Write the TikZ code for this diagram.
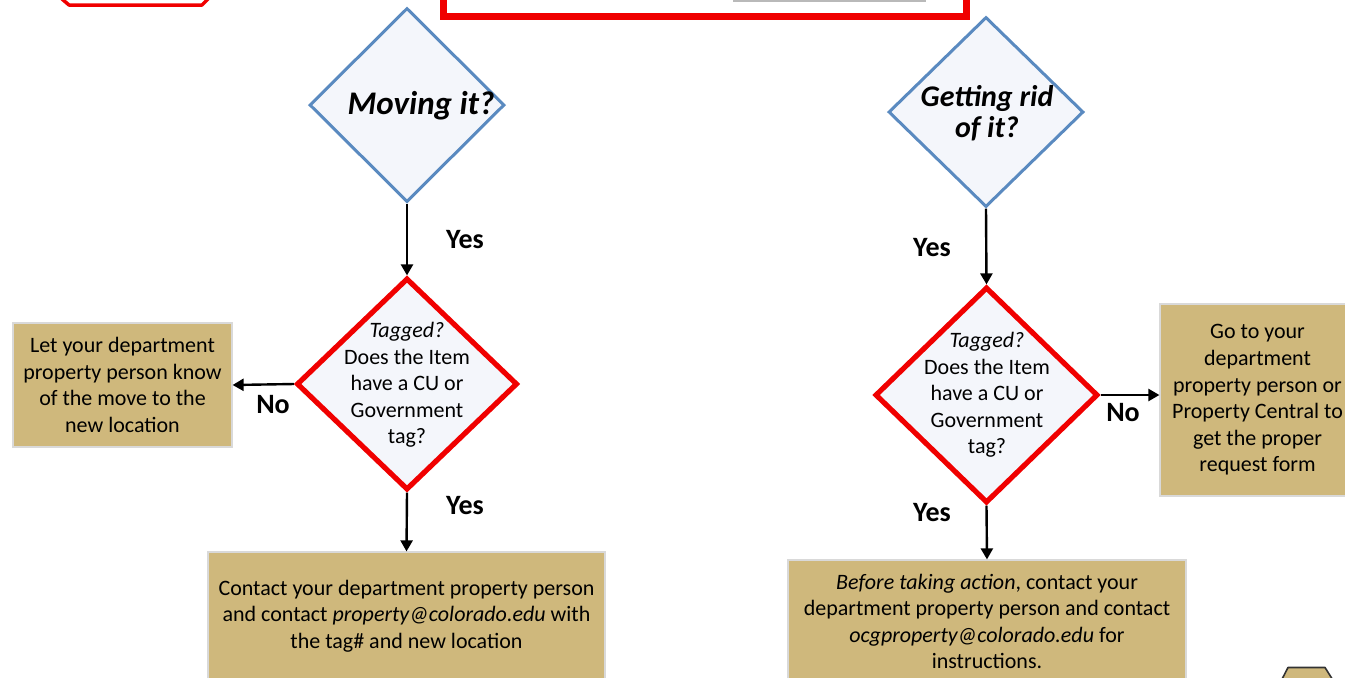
\documentclass[tikz,border=0pt]{standalone}
\usepackage{fontspec}
\setmainfont{Carlito}
\usetikzlibrary{shapes.geometric,arrows.meta}
\definecolor{cugold}{RGB}{207,184,124}
\definecolor{dblue}{RGB}{90,138,192}
\definecolor{dfill}{RGB}{244,246,251}
\definecolor{sred}{RGB}{240,0,0}
\begin{document}
\begin{tikzpicture}[x=0.5pt,y=-0.5pt,
 bluedia/.style={diamond,draw=dblue,line width=1.5pt,fill=dfill,inner sep=0pt},
 reddia/.style={diamond,draw=sred,line width=2.6pt,fill=dfill,inner sep=0pt},
 goldbox/.style={rectangle,fill=cugold,draw=black!15,line width=0.6pt,inner sep=0pt,align=center,font=\fontsize{11}{13.3}\selectfont},
 yn/.style={font=\bfseries\fontsize{14}{16}\selectfont},
 arr/.style={-{Triangle[length=5.5pt,width=6pt]},line width=1.2pt},
 qtext/.style={align=center,font=\fontsize{11}{13.25}\selectfont},
 ttl/.style={align=center,font=\bfseries\itshape\fontsize{15}{15.5}\selectfont}]
\clip (0,0) rectangle (1345,677);
% partial shapes at the top
\draw[sred,line width=1.75pt,line join=round] (62,-10) -- (62,-1) -- (69,5) -- (202,5) -- (211,-4);
\draw[sred,line width=3.5pt,fill=white] (443.5,-30) rectangle (966.5,16.5);
\fill[gray!55] (733,-3) rectangle (926,1.5);
% bottom-right partial shape
\draw[black!80,fill=cugold,line width=0.8pt,line join=round] (1279,685) -- (1288,667.5) -- (1325,667.5) -- (1336,685);
% decisions
\node[bluedia,minimum width=97.5pt,minimum height=97pt] (mov) at (407,105) {};
\node[ttl,font=\bfseries\itshape\fontsize{16.5}{17}\selectfont] (movt) at (421,106) {Moving it?};
\node[bluedia,minimum width=97.5pt,minimum height=95pt] (get) at (986,112) {};
\node[ttl] (gett) at (987,113) {Getting rid\\of it?};
\node[reddia,minimum width=110.5pt,minimum height=106pt] (tl) at (407,384) {};
\node[qtext] (tlt) at (407,385) {\textit{Tagged?}\\Does the Item\\have a CU or\\Government\\tag?};
\node[reddia,minimum width=111.5pt,minimum height=108pt] (tr) at (986.5,395) {};
\node[qtext] (trt) at (987,395) {\textit{Tagged?}\\Does the Item\\have a CU or\\Government\\tag?};
% boxes
\node[goldbox,minimum width=109.5pt,minimum height=62pt] (lb) at (122.5,385) {Let your department\\property person know\\of the move to the\\new location};
\node[goldbox,minimum width=198.5pt,minimum height=64pt] (bl) at (406.5,616) {Contact your department property person\\and contact \textit{property@colorado.edu} with\\the tag\# and new location};
\node[goldbox,minimum width=199pt,minimum height=61.5pt] (br) at (987,621.5) {\textit{Before taking action}, contact your\\department property person and contact\\\textit{ocgproperty@colorado.edu} for\\instructions.};
\node[goldbox,minimum width=97.5pt,minimum height=96pt] (rb) at (1257.5,400) {Go to your\\department\\property person or\\Property Central to\\get the proper\\request form};
% connectors
\draw[arr] (mov.south) -- (tl.north);
\draw[arr] (tl.west) -- (lb.east);
\draw[arr] (tl.south) -- (bl.north);
\draw[arr] (get.south) -- (tr.north);
\draw[arr] (tr.east) -- (tr.east -| rb.west);
\draw[arr] (tr.south) -- (br.north);
% labels
\node[yn] (y1) at (465,240) {Yes};
\node[yn] (n1) at (273,405) {No};
\node[yn] (y2) at (465,506) {Yes};
\node[yn] (y3) at (932,248) {Yes};
\node[yn] (n2) at (1123,413) {No};
\node[yn] (y4) at (932,513) {Yes};
\end{tikzpicture}
\end{document}
